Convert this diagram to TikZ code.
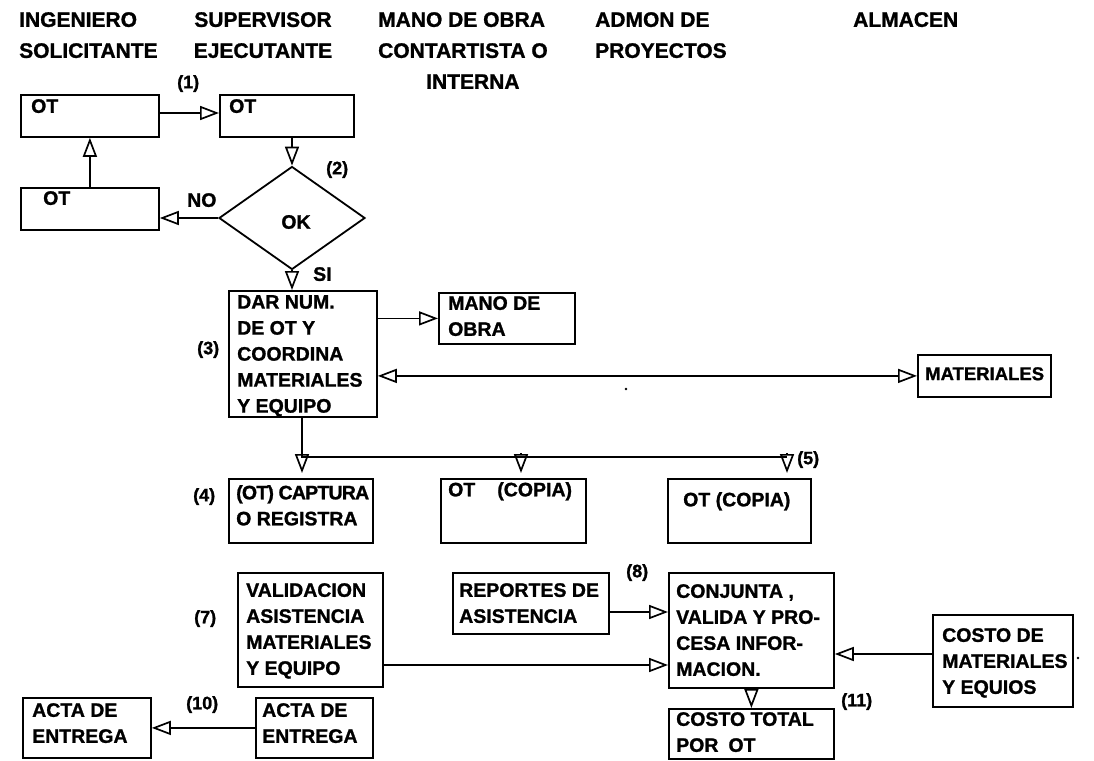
\documentclass[tikz,border=0pt]{standalone}
\usepackage{fontspec}
\setmainfont{Liberation Sans}[BoldFeatures={FakeBold=1.2}]
\usetikzlibrary{arrows.meta,shapes.geometric}
\tikzset{
  box/.style={draw, line width=1.8pt, anchor=north west, inner sep=0pt, minimum width=#1},
  box/.default=100pt,
  txt/.style={anchor=north west, inner sep=0pt, align=left, font=\bfseries\fontsize{19.5}{26}\selectfont},
  hdr/.style={anchor=north west, inner sep=0pt, align=left, font=\bfseries\fontsize{21}{31}\selectfont},
  num/.style={anchor=north west, inner sep=0pt, font=\bfseries\fontsize{18}{20}\selectfont},
  tip/.style={-{Triangle[open, length=19pt, width=14pt, line width=1.7pt]}},
  arr/.style={line width=1.7pt, tip},
  lnk/.style={line width=1.7pt}
}
\begin{document}
\begin{tikzpicture}[x=1pt,y=-1pt]
\useasboundingbox (0,0) rectangle (1094,760);
% headers
\node[hdr] (h1) at (19,12) {INGENIERO\\SOLICITANTE};
\node[hdr, align=center, anchor=north] (h2) at (263,12) {SUPERVISOR\\EJECUTANTE};
\node[hdr] (h3) at (378,12) {MANO DE OBRA\\CONTARTISTA O\\\hspace*{48pt}INTERNA};
\node[hdr] (h4) at (595,12) {ADMON DE\\PROYECTOS};
\node[hdr] (h5) at (853,12) {ALMACEN};
% top boxes
\node[box=138pt, minimum height=42pt] (b1) at (20,94) {};
\node[txt] (b1t) at (31,99) {OT};
\node[box=134pt, minimum height=42pt] (b2) at (219,94) {};
\node[txt] (b2t) at (229,99) {OT};
\node[num] (n1) at (177,75) {(1)};
\node[draw, line width=1.8pt, shape=diamond, minimum width=146pt, minimum height=103pt, inner sep=0pt] (dia) at (292,218) {};
\node[txt, anchor=center] (ok) at (296,222) {OK};
\node[num] (n2) at (326,161) {(2)};
\node[txt] (no) at (187,193) {NO};
\node[txt] (si) at (313,267) {SI};
\node[box=138pt, minimum height=42pt] (b3) at (20,187) {};
\node[txt] (b3t) at (43,191) {OT};
\coordinate (a1) at ([yshift=-19pt]b1.north east);
\draw[arr] (a1) -- (a1 -| b2.west);
\draw[arr] (dia.north |- b2.south) -- (dia.north);
\draw[arr] (dia.west) -- (dia.west -| b3.east);
\draw[arr] (b3.north) -- (b1.south);
% DAR box
\node[box=148pt, minimum height=126pt] (dar) at (228,290) {};
\node[txt] (dart) at (237,295) {DAR NUM.\\DE OT Y\\COORDINA\\MATERIALES\\Y EQUIPO};
\node[num] (n3) at (197,341) {(3)};
\draw[arr] (dia.south) -- (dia.south |- dar.north);
\node[box=136pt, minimum height=51pt] (mano) at (438,292) {};
\node[txt] (manot) at (448,296) {MANO DE\\OBRA};
\draw[arr] (mano.west -| dar.east) -- (mano.west);
\node[box=133pt, minimum height=42pt] (mat) at (917,354) {};
\node[txt, font=\bfseries\fontsize{18.5}{24}\selectfont] (matt) at (925,367) {MATERIALES};
\draw[line width=1.7pt, {Triangle[open, length=19pt, width=14pt, line width=1.7pt]}-{Triangle[open, length=19pt, width=14pt, line width=1.7pt]}] (mat.west -| dar.east) -- (mat.west);
\fill (626,389) circle (1.4pt);
% row 4
\node[box=144pt, minimum height=64pt] (cap) at (228,478) {};
\node[txt] (capt) at (236,485) {\addfontfeature{LetterSpace=-4}(OT) CAPTURA\\O REGISTRA};
\node[num] (n4) at (193,488) {(4)};
\node[box=145pt, minimum height=64pt] (cop1) at (440,478) {};
\node[txt] (cop1t) at (448,482) {OT\hspace{22pt}(COPIA)};
\node[box=143pt, minimum height=64pt] (cop2) at (667,478) {};
\node[txt] (cop2t) at (683,492) {OT (COPIA)};
\node[num] (n5) at (797,451) {(5)};
\coordinate (ja) at (302,457);
\coordinate (jb) at (521,457);
\coordinate (jc) at (787,457);
\draw[lnk] (dar.south -| ja) -- (ja) -- (jc);
\draw[arr, shorten >=5pt] ([yshift=4pt]ja) -- (ja |- cap.north);
\draw[arr, shorten >=5pt] ([yshift=4pt]jb) -- (jb |- cop1.north);
\draw[arr, shorten >=5pt] ([yshift=4pt]jc) -- (jc |- cop2.north);
% row 7
\node[box=145pt, minimum height=114pt] (val) at (237,572) {};
\node[txt] (valt) at (246,583) {VALIDACION\\ASISTENCIA\\MATERIALES\\Y EQUIPO};
\node[num] (n7) at (194,610) {(7)};
\node[box=156pt, minimum height=61pt] (rep) at (452,572) {};
\node[txt] (rept) at (459,583) {REPORTES DE\\ASISTENCIA};
\node[num] (n8) at (626,564) {(8)};
\node[box=165pt, minimum height=115pt] (con) at (668,572) {};
\node[txt] (cont) at (676,584) {CONJUNTA ,\\VALIDA Y PRO-\\CESA INFOR-\\MACION.};
\coordinate (r1) at ([yshift=-40pt]rep.north east);
\draw[arr] (r1) -- (r1 -| con.west);
\coordinate (v1) at ([yshift=-93pt]val.north east);
\draw[arr] (v1) -- (v1 -| con.west);
\node[box=140pt, minimum height=92pt] (cost) at (932,614) {};
\node[txt] (costt) at (942,628) {COSTO DE\\MATERIALES\\Y EQUIOS};
\fill (1078,658) circle (1.4pt);
\coordinate (c1) at ([yshift=-40pt]cost.north west);
\draw[arr] (c1) -- (c1 -| con.east);
\node[box=165pt, minimum height=50pt] (tot) at (668,708) {};
\node[txt] (tott) at (676,712) {COSTO TOTAL\\POR\hspace{10pt}OT};
\draw[arr] (con.south) -- (tot.north);
\node[num] (n11) at (841,693) {(11)};
% row 10
\node[box=128pt, minimum height=60pt] (actl) at (22,697) {};
\node[txt] (actlt) at (32,703) {ACTA DE\\ENTREGA};
\node[box=117pt, minimum height=60pt] (actr) at (255,697) {};
\node[txt] (actrt) at (262,703) {ACTA DE\\ENTREGA};
\node[num] (n10) at (186,696) {(10)};
\draw[arr] (actr.west) -- (actl.east);
\end{tikzpicture}
\end{document}
